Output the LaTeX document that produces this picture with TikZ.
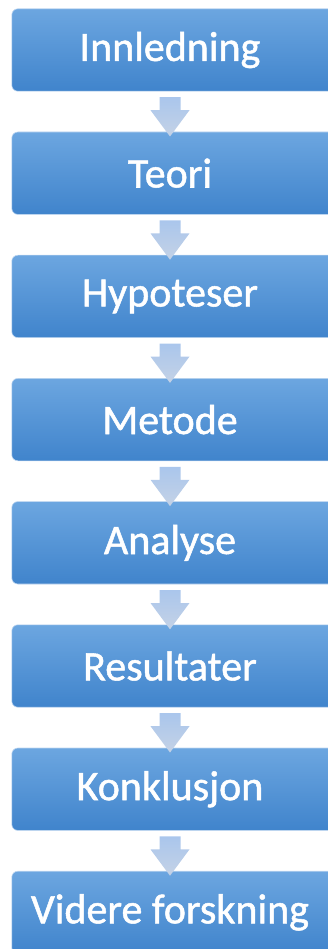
\documentclass[tikz,border=0pt]{standalone}
\usepackage{fontspec}
\setmainfont{Carlito}
\newfontfamily\stagefont[FakeBold=1.2]{Carlito}
\usetikzlibrary{calc,backgrounds}
\definecolor{boxtop}{RGB}{108,166,224}
\definecolor{boxbot}{RGB}{64,132,204}
\definecolor{boxedge}{RGB}{190,214,240}
\definecolor{arrtop}{RGB}{170,198,236}
\definecolor{arrbot}{RGB}{196,210,230}
\tikzset{
  stage/.style={minimum width=316pt, minimum height=82pt, inner sep=0pt,
    text=white, font=\stagefont\fontsize{42}{46}\selectfont},
  boxfill/.style={top color=boxtop, bottom color=boxbot, draw=boxedge, line width=0.6pt, rounded corners=6pt},
  blockarrow/.style={top color=arrtop, bottom color=arrbot, draw=none}
}
\begin{document}
\begin{tikzpicture}[x=1pt,y=1pt]
\useasboundingbox (0,0) rectangle (328,-949);
\clip (0,0) rectangle (328,-949);
\foreach \i/\t in {1/Innledning,2/Teori,3/Hypoteser,4/Metode,5/Analyse,6/Resultater,7/Konklusjon,8/Videre forskning}{
  \node[stage] (b\i) at (170,{-9-41-123.2*(\i-1)}) {\t};
}
\begin{scope}[on background layer]
\foreach \i in {1,...,8}{
  \path[boxfill] (b\i.north west) rectangle ($(b\i.south east)+(20,0)$);
}
\foreach \i [evaluate=\i as \j using int(\i+1)] in {1,...,7}{
  \path[blockarrow] ($(b\i.south)+(-10.5,-6)$) -- ($(b\i.south)+(10.5,-6)$)
    -- ($(b\i.south)+(10.5,-19)$) -- ($(b\i.south)+(19.5,-19)$)
    -- ($(b\j.north)+(0,-4.5)$)
    -- ($(b\i.south)+(-19.5,-19)$) -- ($(b\i.south)+(-10.5,-19)$) -- cycle;
}
\end{scope}
\end{tikzpicture}
\end{document}
